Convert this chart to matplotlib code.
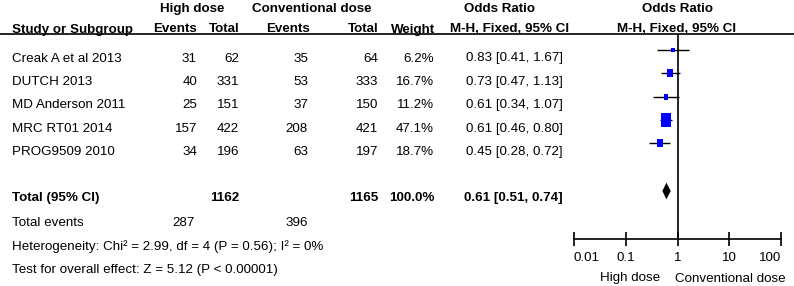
import numpy as np
import matplotlib
matplotlib.use("Agg")
import matplotlib.pyplot as plt
from matplotlib.path import Path
from matplotlib.ticker import FixedLocator, FixedFormatter

plt.rcParams['font.family'] = ['Liberation Sans', 'DejaVu Sans']
plt.rcParams['font.size'] = 9.6

# data
studies = ["Creak A et al 2013", "DUTCH 2013", "MD Anderson 2011",
           "MRC RT01 2014", "PROG9509 2010"]
high_events = [31, 40, 25, 157, 34]
high_total = [62, 331, 151, 422, 196]
conv_events = [35, 53, 37, 208, 63]
conv_total = [64, 333, 150, 421, 197]
weights = [6.2, 16.7, 11.2, 47.1, 18.7]
odds = [0.83, 0.73, 0.61, 0.61, 0.45]
ci_low = [0.41, 0.47, 0.34, 0.46, 0.28]
ci_high = [1.67, 1.13, 1.07, 0.80, 0.72]

total_or, total_low, total_high = 0.61, 0.51, 0.74
total_weight = 100.0
total_high_n, total_conv_n = 1162, 1165
total_high_events, total_conv_events = 287, 396
heterogeneity = "Heterogeneity: Chi\u00b2 = 2.99, df = 4 (P = 0.56); I\u00b2 = 0%"
overall = "Test for overall effect: Z = 5.12 (P < 0.00001)"

tick_vals = [0.01, 0.1, 1, 10, 100]
tick_labels = ["0.01", "0.1", "1", "10", "100"]

W, H = 794, 286
fig = plt.figure(figsize=(W / 100, H / 100), dpi=100)

# background axes in pixel coordinates for the table
bg = fig.add_axes([0, 0, 1, 1])
bg.set_xlim(0, W)
bg.set_ylim(H, 0)
bg.axis('off')

bold = dict(fontweight='bold')

# headers
bg.text(192, 12, "High dose", ha='center', **bold)
bg.text(312, 12, "Conventional dose", ha='center', **bold)
bg.text(500, 12, "Odds Ratio", ha='center', **bold)
bg.text(678, 12, "Odds Ratio", ha='center', **bold)
hy = 32.5
bg.text(12, hy, "Study or Subgroup", ha='left', **bold)
bg.text(197, hy, "Events", ha='right', **bold)
bg.text(240, hy, "Total", ha='right', **bold)
bg.text(310, hy, "Events", ha='right', **bold)
bg.text(379, hy, "Total", ha='right', **bold)
bg.text(435, hy, "Weight", ha='right', **bold)
bg.text(510, hy, "M-H, Fixed, 95% CI", ha='center', **bold)
bg.text(677, hy, "M-H, Fixed, 95% CI", ha='center', **bold)
bg.hlines(34, 0, W, color='black', lw=1.2)

row_base = [61.5 + 23.4 * i for i in range(len(studies))]
for i, name in enumerate(studies):
    y = row_base[i]
    bg.text(12, y, name, ha='left')
    bg.text(197, y, str(high_events[i]), ha='right')
    bg.text(239, y, str(high_total[i]), ha='right')
    bg.text(308, y, str(conv_events[i]), ha='right')
    bg.text(378, y, str(conv_total[i]), ha='right')
    bg.text(434, y, f"{weights[i]:.1f}%", ha='right')
    bg.text(563, y, f"{odds[i]:.2f} [{ci_low[i]:.2f}, {ci_high[i]:.2f}]", ha='right')

ty = 201
bg.text(12, ty, "Total (95% CI)", ha='left', **bold)
bg.text(239, ty, str(total_high_n), ha='right', **bold)
bg.text(378, ty, str(total_conv_n), ha='right', **bold)
bg.text(434, ty, f"{total_weight:.1f}%", ha='right', **bold)
bg.text(563, ty, f"{total_or:.2f} [{total_low:.2f}, {total_high:.2f}]", ha='right', **bold)

bg.text(12, 225.5, "Total events", ha='left')
bg.text(195, 225.5, str(total_high_events), ha='right')
bg.text(308, 225.5, str(total_conv_events), ha='right')
bg.text(12, 250, heterogeneity, ha='left')
bg.text(12, 273, overall, ha='left')

bg.text(630.5, 281.5, "High dose", ha='center')
bg.text(730, 281.5, "Conventional dose", ha='center')

# forest axes
x0, x1, ytop, ybot = 574, 781, 34, 239
ax = fig.add_axes([x0 / W, (H - ybot) / H, (x1 - x0) / W, (ybot - ytop) / H])
ax.patch.set_alpha(0)
ax.set_xscale('log')
ax.set_xlim(0.01, 100)
ax.set_ylim(ybot, ytop)
for s in ['top', 'left', 'right']:
    ax.spines[s].set_visible(False)
ax.spines['bottom'].set_linewidth(1.2)
ax.xaxis.set_major_locator(FixedLocator(tick_vals))
ax.xaxis.set_major_formatter(FixedFormatter(tick_labels))
ax.xaxis.set_minor_locator(FixedLocator([]))
ax.tick_params(axis='x', direction='inout', length=9.5, width=1.2, pad=4.5,
               labelsize=9.6)
ax.set_yticks([])
labels = ax.get_xticklabels()
labels[0].set_ha('left')
labels[-1].set_ha('right')

ax.axvline(1, color='black', lw=1.2)

rect = Path([(-0.38, -0.5), (0.38, -0.5), (0.38, 0.5), (-0.38, 0.5), (-0.38, -0.5)],
            [Path.MOVETO, Path.LINETO, Path.LINETO, Path.LINETO, Path.CLOSEPOLY])
for i in range(len(studies)):
    ym = row_base[i] - 11.7
    ax.hlines(ym, ci_low[i], ci_high[i], color='black', lw=1.0)
    h_px = 1.38 * weights[i] ** 0.6
    ax.scatter([odds[i]], [ym], marker=rect, s=(h_px * 0.72) ** 2,
               color='#0000ff', linewidths=0, zorder=3)

dy = 191
ax.fill([total_low, total_or, total_high, total_or],
        [dy, dy - 8.3, dy, dy + 8.3], color='black', lw=0)

fig.savefig("out.png", dpi=100)
